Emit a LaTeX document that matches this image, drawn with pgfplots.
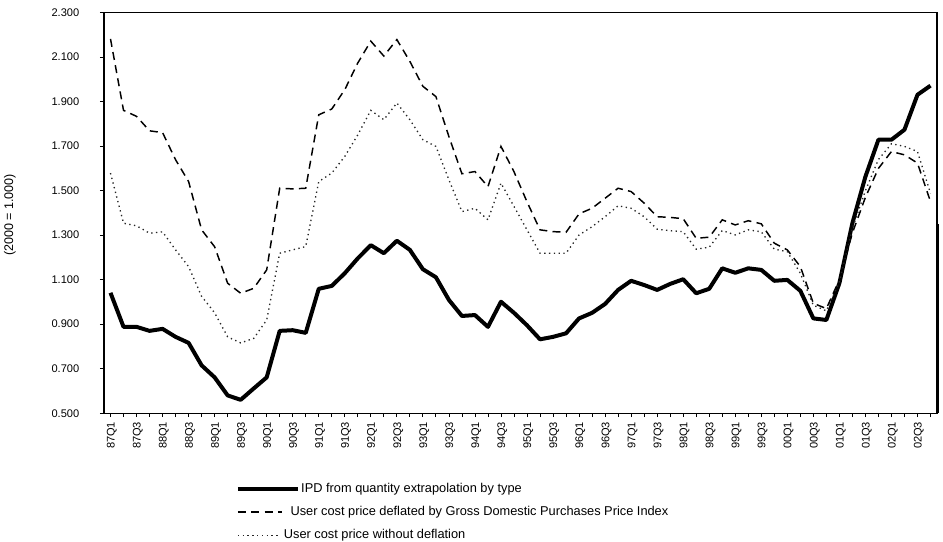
\documentclass[border=0pt]{standalone}
\usepackage{pgfplots}
\pgfplotsset{compat=1.18}
\usepackage{pgfplotstable}
\usepackage{fontspec}
\setmainfont{Liberation Sans}

\pgfplotsset{
  legA/.style={legend image code/.code={\draw[##1] (0pt,0pt) -- (45pt,0pt);}},
  legB/.style={legend image code/.code={\draw[##1] (0pt,0pt) -- (33pt,0pt);}},
  legC/.style={legend image code/.code={\draw[##1] (0pt,0pt) -- (32pt,0pt);}},
}

\pgfplotstableread{
i ipd dsh dot
0 1.041 2.182 1.579
1 0.888 1.861 1.354
2 0.888 1.834 1.342
3 0.870 1.769 1.309
4 0.879 1.761 1.315
5 0.843 1.639 1.234
6 0.816 1.541 1.159
7 0.715 1.324 1.025
8 0.661 1.248 0.951
9 0.580 1.084 0.843
10 0.560 1.039 0.816
11 0.611 1.061 0.836
12 0.661 1.144 0.919
13 0.870 1.511 1.219
14 0.873 1.508 1.234
15 0.861 1.511 1.249
16 1.059 1.841 1.541
17 1.072 1.867 1.579
18 1.129 1.954 1.654
19 1.196 2.074 1.751
20 1.255 2.172 1.861
21 1.219 2.105 1.819
22 1.275 2.179 1.894
23 1.234 2.081 1.819
24 1.147 1.969 1.729
25 1.111 1.923 1.699
26 1.009 1.743 1.549
27 0.937 1.576 1.406
28 0.941 1.586 1.421
29 0.888 1.518 1.369
30 1.001 1.699 1.534
31 0.951 1.585 1.429
32 0.895 1.450 1.324
33 0.832 1.324 1.219
34 0.843 1.316 1.219
35 0.859 1.313 1.219
36 0.926 1.396 1.301
37 0.951 1.421 1.338
38 0.991 1.466 1.383
39 1.054 1.511 1.432
40 1.095 1.496 1.421
41 1.076 1.444 1.383
42 1.054 1.383 1.327
43 1.081 1.380 1.320
44 1.102 1.374 1.316
45 1.039 1.286 1.237
46 1.059 1.291 1.246
47 1.151 1.369 1.321
48 1.131 1.346 1.301
49 1.151 1.365 1.324
50 1.144 1.351 1.315
51 1.095 1.264 1.237
52 1.099 1.234 1.226
53 1.050 1.159 1.129
54 0.926 0.994 0.985
55 0.919 0.970 0.960
56 1.084 1.100 1.090
57 1.354 1.310 1.330
58 1.563 1.470 1.500
59 1.729 1.600 1.640
60 1.729 1.676 1.711
61 1.774 1.661 1.699
62 1.931 1.624 1.676
63 1.972 1.451 1.488
}\datatable

\begin{document}
\begin{tikzpicture}
\useasboundingbox (-78pt,-96.5pt) rectangle (629.25pt,309.9pt);
\begin{axis}[
  at={(0pt,0pt)}, anchor=south west,
  scale only axis, width=624.75pt, height=300.4pt,
  xmin=-0.5, xmax=63.5, ymin=0.5, ymax=2.3,
  clip=false,
  axis line style={line width=1pt},
  tick align=outside, tick pos=left,
  major tick length=3pt, minor tick length=3pt,
  every tick/.style={black, line width=0.6pt},
  xtick={0,2,...,62}, minor xtick={1,3,...,63},
  xticklabels={87Q1,87Q3,88Q1,88Q3,89Q1,89Q3,90Q1,90Q3,91Q1,91Q3,92Q1,92Q3,93Q1,93Q3,94Q1,94Q3,95Q1,95Q3,96Q1,96Q3,97Q1,97Q3,98Q1,98Q3,99Q1,99Q3,00Q1,00Q3,01Q1,01Q3,02Q1,02Q3},
  xticklabel style={rotate=90, anchor=east, font=\fontsize{8.3}{10}\selectfont, yshift=-1pt},
  ytick={0.5,0.7,...,2.31},
  yticklabel style={font=\fontsize{8.3}{10}\selectfont, xshift=-12pt},
  /pgf/number format/.cd, fixed, fixed zerofill, precision=3, assume math mode=true,
  /pgfplots/.cd,
  legend cell align=left,
  legend style={at={(axis description cs:0.158,-0.17)}, anchor=north west, draw=none, fill=none,
    font=\fontsize{9.6}{11}\selectfont, row sep=6.5pt, inner sep=0pt,
    nodes={inner sep=1pt, text height=7pt, text depth=2pt}},
]
\addplot[black, line width=3pt, line join=round, legA] table[x=i, y=ipd] {\datatable};
\addlegendentry{IPD from quantity extrapolation by type}
\addplot[black, line width=1.1pt, dash pattern=on 6pt off 4pt, legB] table[x=i, y=dsh] {\datatable};
\addlegendentry{\hspace{-8pt}User cost price deflated by Gross Domestic Purchases Price Index}
\addplot[black!85, line width=1pt, dash pattern=on 1pt off 2.6pt, legC] table[x=i, y=dot] {\datatable};
\addlegendentry{\hspace{-13pt}User cost price without deflation}
\draw[line width=2.2pt] (axis cs:63.55,0.5) -- (axis cs:63.55,1.35);
\end{axis}
\node[rotate=90, font=\fontsize{9.4}{11}\selectfont] at (-70.5pt,148.6pt) {(2000 = 1.000)};
\end{tikzpicture}
\end{document}
